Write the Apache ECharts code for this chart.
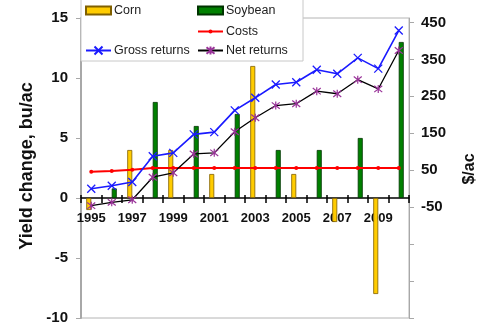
<!DOCTYPE html>
<html>
<head>
<meta charset="utf-8">
<script src="https://cdn.jsdelivr.net/npm/echarts@6/dist/echarts.min.js"></script>
<style>
html,body{margin:0;padding:0;background:#fff;}
#chart{width:481px;height:328px;}
</style>
</head>
<body>
<div id="chart"></div>
<script>
var years = ['1995','1996','1997','1998','1999','2000','2001','2002','2003','2004','2005','2006','2007','2008','2009','2010'];
var corn = [-1, null, 4, null, 4, null, 2, null, 11, null, 2, null, -2, null, -8, null];
var soybean = [null, 0.8, null, 8, null, 6, null, 7, null, 4, null, 4, null, 5, null, 13];
var costs = [46, 48, 51, 56, 56, 56, 56, 56, 56, 56, 56, 56, 56, 56, 56, 56];
var grossReturns = [0, 8, 18, 88, 97, 147, 153, 212, 246, 282, 288, 322, 311, 354, 325, 428];
var netReturns = [-46, -37, -30, 31, 43, 94, 97, 154, 192, 225, 230, 264, 257, 295, 270, 374];
var leftTicks = [-10, -5, 0, 5, 10, 15];
var rightTicks = [-350, -250, -150, -50, 50, 150, 250, 350, 450];
var rightLabels = [-50, 50, 150, 250, 350, 450];

var FONT = '"Liberation Sans", Arial, sans-serif';
var X_SYMBOL = 'path://M0,0L10,10M10,0L0,10';
var STAR_SYMBOL = 'path://M1,1L9,9M9,1L1,9M5,0L5,10';

var GRID = {left: 81, right: 72, top: 18, bottom: 10};
var PLOT_H = 328 - GRID.top - GRID.bottom;
// pixel distance of the left-axis zero line from the bottom of the plot
var ZERO_FROM_BOTTOM = PLOT_H * (0 - leftTicks[0]) / (leftTicks[leftTicks.length - 1] - leftTicks[0]);

function legendAt(name, left, top, h, icon) {
  var l = {
    data: [name], left: left, top: top, padding: 0,
    itemWidth: 25, itemHeight: h, z: 20,
    textStyle: {fontFamily: FONT, fontSize: 12.5, color: '#222', padding: [0, 0, 0, -2]}
  };
  if (icon) l.icon = icon;
  return l;
}

var chart = echarts.init(document.getElementById('chart'), null, {renderer: 'canvas'});
chart.setOption({
  animation: false,
  backgroundColor: '#fff',
  textStyle: {fontFamily: FONT},
  grid: {left: GRID.left, right: GRID.right, top: GRID.top, bottom: GRID.bottom, show: true,
    borderColor: '#b4b4b4', borderWidth: 1, containLabel: false, outerBoundsMode: 'none'},
  graphic: [
    {type: 'rect', z: 15, shape: {x: 81, y: -1, width: 222, height: 62}, style: {fill: '#fff', stroke: '#c8c8c8', lineWidth: 1}},
    {type: 'text', z: 15, x: 27, y: 166, rotation: Math.PI / 2,
      style: {text: 'Yield change, bu/ac', font: 'bold 18px ' + FONT, fill: '#111', align: 'center', verticalAlign: 'middle'}},
    {type: 'text', z: 15, x: 470, y: 169, rotation: Math.PI / 2,
      style: {text: '$/ac', font: 'bold 16px ' + FONT, fill: '#111', align: 'center', verticalAlign: 'middle'}}
  ],
  legend: [
    legendAt('Corn', 85, 4, 8, 'rect'),
    legendAt('Soybean', 197, 4, 8, 'rect'),
    legendAt('Costs', 197, 25, 5),
    legendAt('Gross returns', 85, 44, 10),
    legendAt('Net returns', 197, 44, 10)
  ],
  xAxis: [{
    type: 'category', data: years, boundaryGap: true, position: 'bottom', offset: -ZERO_FROM_BOTTOM,
    axisLine: {onZero: false, lineStyle: {color: '#000', width: 1.5}},
    axisTick: {show: true, interval: 0, length: 5, lineStyle: {color: '#000', width: 1.5}},
    axisLabel: {interval: 1, margin: 14, fontFamily: FONT, fontSize: 13, fontWeight: 'bold', color: '#111'},
    splitLine: {show: false}
  }, {
    type: 'category', data: years, boundaryGap: true, position: 'top', offset: -(PLOT_H - ZERO_FROM_BOTTOM),
    axisLine: {show: false, onZero: false},
    axisTick: {show: true, interval: 0, length: 3, lineStyle: {color: '#000', width: 1.5}},
    axisLabel: {show: false},
    splitLine: {show: false}
  }],
  yAxis: [{
    type: 'value', min: -10, max: 15, interval: 5, position: 'left',
    axisLine: {show: true, onZero: false, lineStyle: {color: '#a8a8a8', width: 2}},
    axisTick: {show: true, length: 5, lineStyle: {color: '#a8a8a8'}, customValues: leftTicks},
    axisLabel: {margin: 13, fontFamily: FONT, fontSize: 15, fontWeight: 'bold', color: '#111', customValues: leftTicks},
    splitLine: {show: false}
  }, {
    type: 'value', min: -350, max: 462, position: 'right',
    axisLine: {show: true, onZero: false, lineStyle: {color: '#a8a8a8', width: 1}},
    axisTick: {show: true, length: 5, lineStyle: {color: '#a8a8a8'}, customValues: rightTicks},
    axisLabel: {margin: 12, fontFamily: FONT, fontSize: 15, fontWeight: 'bold', color: '#111', customValues: rightLabels},
    splitLine: {show: false}
  }],
  series: [{
    name: 'Corn', type: 'bar', data: corn, xAxisIndex: 0, yAxisIndex: 0,
    barWidth: 5, barGap: '0%',
    itemStyle: {color: '#FFCC00', borderColor: '#806000', borderWidth: 0.8}
  }, {
    name: 'Soybean', type: 'bar', data: soybean, xAxisIndex: 0, yAxisIndex: 0,
    barWidth: 5, barGap: '0%',
    itemStyle: {color: '#008000', borderColor: '#003300', borderWidth: 0.8}
  }, {
    name: 'Costs', type: 'line', data: costs, xAxisIndex: 0, yAxisIndex: 1, z: 3,
    symbol: 'circle', symbolSize: 4, showAllSymbol: true,
    lineStyle: {color: '#FF0000', width: 2},
    itemStyle: {color: '#FF0000'}
  }, {
    name: 'Gross returns', type: 'line', data: grossReturns, xAxisIndex: 0, yAxisIndex: 1, z: 4,
    symbol: X_SYMBOL, symbolSize: 8, showAllSymbol: true,
    lineStyle: {color: '#1a1aff', width: 1.6},
    itemStyle: {color: '#1a1aff', borderColor: '#1a1aff', borderWidth: 1.3}
  }, {
    name: 'Net returns', type: 'line', data: netReturns, xAxisIndex: 0, yAxisIndex: 1, z: 4,
    symbol: STAR_SYMBOL, symbolSize: 8, showAllSymbol: true,
    lineStyle: {color: '#000', width: 1.3},
    itemStyle: {color: '#993399', borderColor: '#993399', borderWidth: 1.2}
  }]
});
</script>
</body>
</html>
